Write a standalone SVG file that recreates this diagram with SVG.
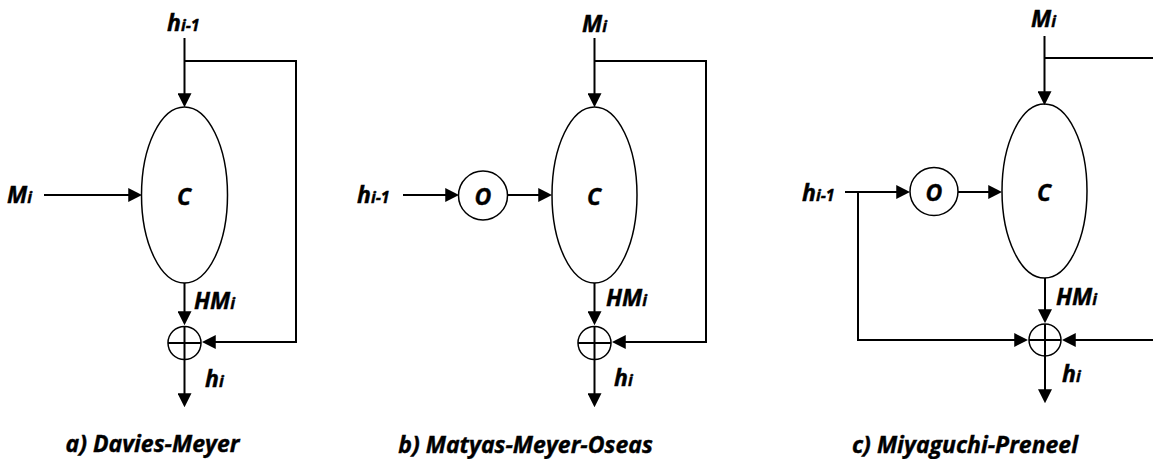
<svg xmlns="http://www.w3.org/2000/svg" width="1153" height="459" viewBox="0 0 1153 459">
  <style>
    .ln { fill: none; stroke: #000; stroke-width: 2; }
    .arr { marker-end: url(#ah); }
    .shape { fill: #fff; stroke: #000; stroke-width: 1.5; }
    .xor { fill: none; stroke: #000; stroke-width: 1.5; }
    text { font-family: "Open Sans", "Liberation Sans", sans-serif; font-weight: bold; font-style: italic; fill: #000; stroke: #000; stroke-width: 0.4; }
    .lbl { font-size: 23px; }
    .sub { font-size: 16px; }
    .mid { text-anchor: middle; }
    .cap { font-size: 23px; text-anchor: middle; }
  </style>
  <defs>
    <marker id="ah" markerUnits="userSpaceOnUse" markerWidth="14" markerHeight="14" viewBox="0 0 13 13" refX="10" refY="6.5" orient="auto">
      <path d="M0,0 L13,6.5 L0,13 z" fill="#000"/>
    </marker>
  </defs>

  <!-- Panel a: Davies-Meyer -->
  <g id="a-compress">
    <ellipse class="shape" cx="184.5" cy="195" rx="43" ry="88"/>
    <text class="lbl mid" x="184" y="205">C</text>
  </g>
  <g id="a-xor">
    <circle class="xor" cx="184.5" cy="343" r="16.5"/>
    <line class="ln" x1="168" y1="343" x2="201" y2="343" stroke-width="1.5"/>
  </g>
  <g id="a-labels">
    <text class="lbl" x="167" y="31">h<tspan class="sub">i-1</tspan></text>
    <text class="lbl" x="7" y="203">M<tspan class="sub">i</tspan></text>
    <text class="lbl" x="194" y="309">HM<tspan class="sub">i</tspan></text>
    <text class="lbl" x="205" y="387">h<tspan class="sub">i</tspan></text>
    <text class="cap" x="152.5" y="452">a) Davies-Meyer</text>
  </g>
  <g id="a-connectors">
    <line class="ln arr" x1="184.5" y1="38" x2="184.5" y2="104"/>
    <polyline class="ln arr" points="184.5,61 296,61 296,342 205,342"/>
    <line class="ln arr" x1="44" y1="195" x2="139" y2="195"/>
    <line class="ln arr" x1="184.5" y1="283" x2="184.5" y2="322"/>
    <line class="ln" x1="184.5" y1="326" x2="184.5" y2="360"/>
    <line class="ln arr" x1="184.5" y1="359" x2="184.5" y2="404"/>
  </g>

  <!-- Panel b: Matyas-Meyer-Oseas -->
  <g id="b-compress">
    <ellipse class="shape" cx="594.5" cy="195" rx="42.5" ry="88"/>
    <text class="lbl mid" x="594" y="205">C</text>
  </g>
  <g id="b-o">
    <circle class="shape" cx="483" cy="195.5" r="24.5"/>
    <text class="lbl mid" x="483" y="205">O</text>
  </g>
  <g id="b-xor">
    <circle class="xor" cx="594.5" cy="343" r="16.5"/>
    <line class="ln" x1="578" y1="343" x2="611" y2="343" stroke-width="1.5"/>
  </g>
  <g id="b-labels">
    <text class="lbl" x="582" y="32">M<tspan class="sub">i</tspan></text>
    <text class="lbl" x="357" y="203">h<tspan class="sub">i-1</tspan></text>
    <text class="lbl" x="606" y="306">HM<tspan class="sub">i</tspan></text>
    <text class="lbl" x="614" y="386">h<tspan class="sub">i</tspan></text>
    <text class="cap" x="525.5" y="453">b) Matyas-Meyer-Oseas</text>
  </g>
  <g id="b-connectors">
    <line class="ln arr" x1="594.5" y1="38" x2="594.5" y2="104"/>
    <polyline class="ln arr" points="594.5,61 706,61 706,342 615,342"/>
    <line class="ln arr" x1="403" y1="195" x2="456" y2="195"/>
    <line class="ln arr" x1="507.5" y1="195" x2="549" y2="195"/>
    <line class="ln arr" x1="594.5" y1="283" x2="594.5" y2="322"/>
    <line class="ln" x1="594.5" y1="326" x2="594.5" y2="360"/>
    <line class="ln arr" x1="594.5" y1="359" x2="594.5" y2="404"/>
  </g>

  <!-- Panel c: Miyaguchi-Preneel -->
  <g id="c-compress">
    <ellipse class="shape" cx="1044.5" cy="191" rx="42.5" ry="87"/>
    <text class="lbl mid" x="1044" y="201">C</text>
  </g>
  <g id="c-o">
    <circle class="shape" cx="934" cy="191.5" r="24"/>
    <text class="lbl mid" x="934" y="201">O</text>
  </g>
  <g id="c-xor">
    <circle class="xor" cx="1045" cy="340" r="16"/>
    <line class="ln" x1="1029" y1="340" x2="1061" y2="340" stroke-width="1.5"/>
  </g>
  <g id="c-labels">
    <text class="lbl" x="1031" y="27">M<tspan class="sub">i</tspan></text>
    <text class="lbl" x="802" y="201">h<tspan class="sub">i-1</tspan></text>
    <text class="lbl" x="1056" y="305">HM<tspan class="sub">i</tspan></text>
    <text class="lbl" x="1062" y="382">h<tspan class="sub">i</tspan></text>
    <text class="cap" x="965" y="453">c) Miyaguchi-Preneel</text>
  </g>
  <g id="c-connectors">
    <line class="ln arr" x1="1044.5" y1="36" x2="1044.5" y2="102"/>
    <line class="ln" x1="1044.5" y1="58" x2="1160" y2="58"/>
    <line class="ln arr" x1="845" y1="192" x2="907" y2="192"/>
    <polyline class="ln arr" points="858,192 858,340 1025,340"/>
    <line class="ln arr" x1="1160" y1="340" x2="1065" y2="340"/>
    <line class="ln arr" x1="958" y1="192" x2="999" y2="192"/>
    <line class="ln arr" x1="1045" y1="278" x2="1045" y2="320"/>
    <line class="ln" x1="1045" y1="324" x2="1045" y2="356"/>
    <line class="ln arr" x1="1045" y1="356" x2="1045" y2="400"/>
  </g>
</svg>
